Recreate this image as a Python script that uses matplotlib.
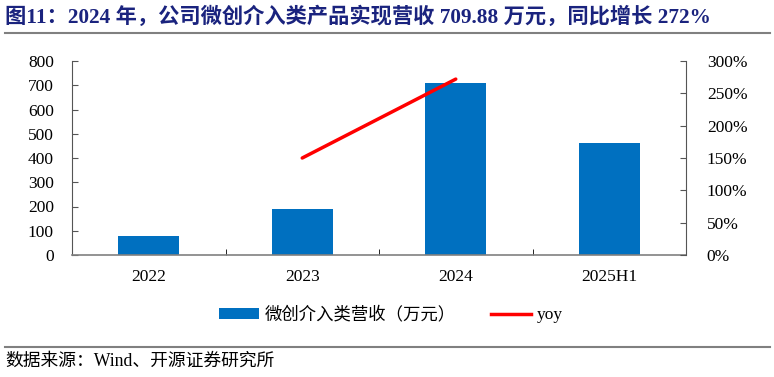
import matplotlib
matplotlib.use("Agg")
import matplotlib.pyplot as plt
from matplotlib.lines import Line2D
from matplotlib.patches import Patch
import numpy as np

categories = ["2022", "2023", "2024", "2025H1"]
revenue = [77, 191, 709.88, 462]
yoy_x = ["2023", "2024"]
yoy = [150, 272]

FAM = ['Liberation Serif', 'Noto Sans CJK SC']
plt.rcParams['font.family'] = FAM

W, H = 774, 377
fig = plt.figure(figsize=(W/100, H/100), dpi=100)

L, R, T, B = 72, 686, 61, 255
ax = fig.add_axes([L/W, 1-B/H, (R-L)/W, (B-T)/H])
x = np.arange(len(categories))
ax.bar(x, revenue, width=0.4, color='#0070C0', zorder=2)
ax.set_xlim(-0.5, len(categories)-0.5)
ax.set_ylim(0, 800)
ax.set_yticks(np.arange(0, 801, 100))
ax.set_xticks(x)
ax.set_xticklabels(categories)
ax.set_xticks(np.arange(-0.5, len(categories), 1), minor=True)
ax.tick_params(axis='x', which='major', length=0, pad=10, labelsize=12.5)
ax.tick_params(axis='x', which='minor', length=4, direction='in', color='black')
ax.tick_params(axis='y', length=4, direction='in', labelsize=12.5, pad=13, color='#555555')
for s in ['top', 'right']:
    ax.spines[s].set_visible(False)
ax.spines['left'].set_color('#555555')
ax.spines['bottom'].set_color('#808080')
ax.spines['bottom'].set_linewidth(1.2)

ax2 = ax.twinx()
xi = [categories.index(c) for c in yoy_x]
ax2.plot(xi, yoy, color='#FF0000', lw=2.5, solid_capstyle='round', zorder=3)
ax2.set_ylim(0, 300)
ax2.set_yticks(np.arange(0, 301, 50))
ax2.set_yticklabels([f"{v}%" for v in range(0, 301, 50)])
ax2.tick_params(axis='y', length=4, direction='in', labelsize=12.5, pad=15, color='#555555')
for s in ['top', 'left', 'bottom']:
    ax2.spines[s].set_visible(False)
ax2.spines['right'].set_color('#555555')

handles = [Patch(facecolor='#0070C0', edgecolor='none', label='微创介入类营收（万元）'),
           Line2D([0], [0], color='#FF0000', lw=2.5, label='yoy')]
fig.legend(handles=handles, loc='center', bbox_to_anchor=(0.505, 1-315/H), ncol=2,
           frameon=False, fontsize=12.5, handlelength=2.3, handleheight=0.65,
           columnspacing=2.0, handletextpad=0.35)

fig.text(5/W, 1-17/H, "图11：2024 年，公司微创介入类产品实现营收 709.88 万元，同比增长 272%",
         fontsize=15.3, fontweight='bold', color='#1A237E', va='center', ha='left')
fig.add_artist(Line2D([5/W, 770/W], [1-33/H, 1-33/H], color='#808080', lw=1.5))
fig.add_artist(Line2D([5/W, 770/W], [1-347/H, 1-347/H], color='#808080', lw=1.5))
fig.text(5/W, 1-361/H, "数据来源：Wind、开源证券研究所", fontsize=12.8, va='center', ha='left')

fig.savefig("out.png", dpi=100)
